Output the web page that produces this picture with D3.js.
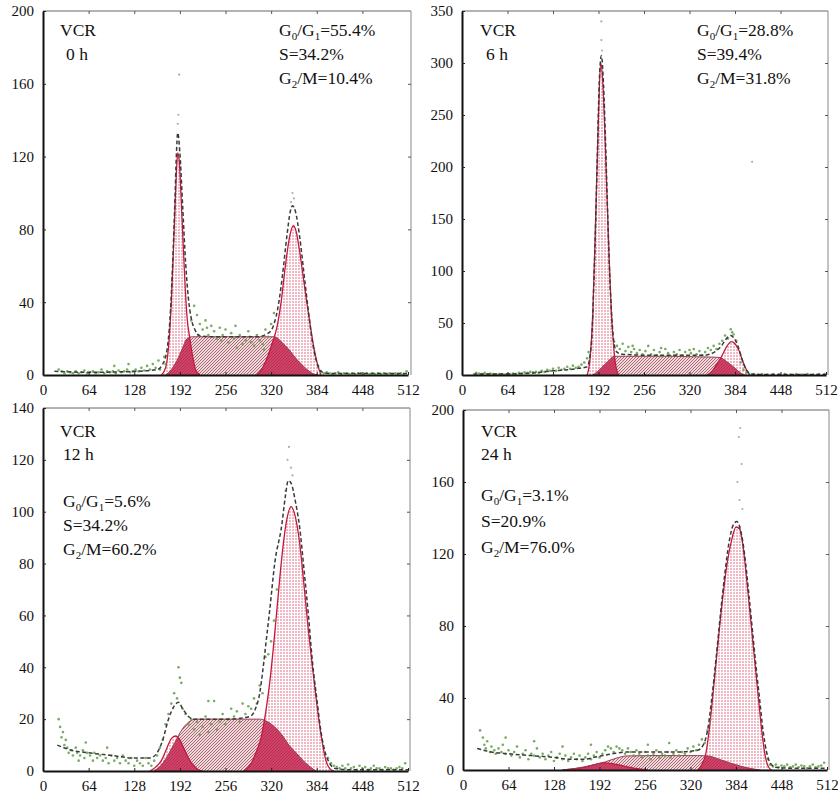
<!DOCTYPE html>
<html><head><meta charset="utf-8">
<script src="https://cdn.jsdelivr.net/npm/d3@7"></script>
<style>body{margin:0;background:#fff} svg{display:block} text{font-family:"Liberation Serif","Times New Roman","DejaVu Serif",serif;fill:#111}</style>
</head><body><svg id="c" width="838" height="795"></svg>
<script>
// ---------- DATA ----------
const xTicks=[0,64,128,192,256,320,384,448,512];
const yTicks1=[0,40,80,120,160,200];
const yTicks2=[0,50,100,150,200,250,300,350];
const yTicks3=[0,20,40,60,80,100,120,140];
const yTicks4=[0,40,80,120,160,200];
const timeLabels=["0 h","6 h","12 h","24 h"];
const g1Pct=["55.4%","28.8%","5.6%","3.1%"];
const sPct=["34.2%","39.4%","34.2%","20.9%"];
const g2Pct=["10.4%","31.8%","60.2%","76.0%"];

// Panel 1 (0 h)
const p1G1=[[166,0],[172,4],[176,15],[180,40],[184,80],[187,110],[189,122],[191,118],[194,95],[198,60],[202,32],[206,20],[210,10],[214,3],[220,0]];
const p1S=[[172,0],[180,3],[188,8],[196,15],[202,20],[210,21],[260,21],[300,21],[325,21],[335,18],[345,14],[355,9],[365,5],[372,2.5],[380,0.5],[386,0]];
const p1G2=[[300,0],[308,4],[316,11],[322,18],[328,26],[334,40],[340,60],[346,76],[351,82],[355,79],[360,68],[365,54],[370,40],[375,27],[380,15],[385,6],[390,0]];
const p1Fit=[[16,2],[64,1.5],[128,2],[160,3],[168,6],[174,14],[178,30],[182,62],[185,95],[187,120],[189,133],[192,122],[196,92],[200,62],[204,42],[208,31],[213,25],[220,21.5],[240,21],[300,21],[316,23],[324,28],[330,38],[336,55],[342,76],[347,90],[350,93],[354,90],[360,76],[366,56],[372,36],[378,18],[384,7],[390,2],[400,0.8],[512,0.8]];
const p1Dots=[[22,3],[26,2],[30,1],[34,2],[38,1.5],[42,1],[46,2],[50,1],[54,1.5],[58,2.5],[62,1],[66,1.5],[70,2],[74,1],[78,1.5],[82,3],[86,1],[90,2],[94,1.5],[98,2],[102,1],[106,2.5],[110,1.5],[114,2],[118,3],[122,1.5],[126,2],[130,3],[134,2],[138,4],[142,2.5],[146,5],[150,3],[154,6],[158,4],[162,8],[164,3],[100,5],[120,6],[170,10],[172,6],
[208,30],[212,38],[216,33],[220,28],[224,25],[228,30],[232,22],[236,27],[240,24],[244,20],[248,26],[252,22],[256,25],[260,18],[264,23],[268,20],[272,15],[276,22],[280,17],[284,19],[288,24],[292,18],[296,16],[300,22],[304,19],[308,17],[312,25],[316,21],[320,28],[324,34],[218,22],[230,26],[250,19],[270,27],[290,21],[310,14],
[386,5],[390,2],[394,1],[398,1.5],[402,1],[406,0.5],[410,1],[414,1.5],[418,0.5],[422,1],[426,1],[430,0.5],[434,1],[438,0.5],[442,1],[446,1],[450,0.5],[454,1],[458,0.5],[462,1],[466,0.5],[470,1],[474,0.5],[478,1],[482,0.5],[486,1],[490,0.5],[494,1],[498,0.5],[502,1],[506,0.5],[510,2]];
const p1Peak=[[191,165],[190,143],[189,138],[350,100],[352,97],[348,95]];

// Panel 2 (6 h)
const p2G1=[[176,0],[180,15],[184,60],[188,150],[192,250],[195,300],[198,282],[201,232],[204,172],[207,112],[210,62],[213,30],[216,10],[220,0]];
const p2S=[[184,0],[190,3],[196,7],[202,11],[208,15],[214,18],[230,18],[280,18],[330,17.5],[360,17],[366,16],[372,13],[380,9],[388,4],[394,1],[398,0]];
const p2G2=[[345,0],[352,4],[360,12],[366,19],[372,27],[379,32],[384,30],[390,23],[395,13],[400,5],[405,0]];
const p2Fit=[[16,1],[64,1],[100,2],[128,4],[160,6],[176,8],[182,30],[186,100],[190,200],[193,280],[196,307],[199,280],[202,222],[205,152],[208,92],[211,52],[214,30],[218,22],[225,20],[260,19],[300,19],[340,19],[355,22],[365,28],[372,35],[378,38],[382,36],[388,28],[394,15],[400,5],[406,1],[420,0.5],[512,0.5]];
const p2Dots=[[20,2],[24,1.5],[28,1],[32,2],[36,1],[40,1.5],[44,1],[48,0.5],[52,1],[56,1],[60,0.5],[64,1],[68,1],[72,1.5],[76,1],[80,2],[84,1.5],[88,2.5],[92,2],[96,3],[100,2.5],[104,3],[108,2],[112,4],[116,3],[120,5],[124,4],[128,6],[132,4],[136,7],[140,5],[144,6],[148,8],[152,6],[156,9],[160,7],[164,8],[168,10],[172,12],[176,16],[178,22],
[214,32],[218,28],[222,25],[226,30],[230,23],[234,27],[238,22],[242,25],[246,21],[250,24],[254,20],[258,23],[262,28],[266,20],[270,24],[274,19],[278,22],[282,18],[286,25],[290,21],[294,18],[298,22],[302,20],[306,24],[310,19],[314,22],[318,18],[322,21],[326,25],[330,20],[334,23],[338,19],[342,22],[346,26],[350,24],[354,28],[358,25],[362,30],[366,33],[370,38],[374,35],[378,44],[380,41],[382,39],[386,33],[240,28],[280,26],[320,24],
[392,12],[396,5],[400,2],[404,1],[410,1],[416,0.5],[422,1],[430,0.5],[438,1],[446,0.5],[454,1],[462,0.5],[470,1],[478,0.5],[486,1],[494,0.5],[502,1],[510,1]];
const p2Peak=[[196,340],[196,322],[197,312],[408,205]];

// Panel 3 (12 h)
const p3G1=[[150,0],[158,1.5],[166,4],[174,9],[180,12.5],[186,13.5],[192,12],[198,8.5],[204,5],[210,2.5],[218,0.5],[224,0]];
const p3S=[[155,0],[165,2],[175,6],[185,11],[195,16],[205,19],[215,20],[240,20],[280,20],[305,20],[315,19],[325,17],[335,14],[345,10],[355,7],[365,4],[375,1.5],[383,0]];
const p3G2=[[282,0],[292,3],[300,8],[306,13],[312,22],[318,34],[324,50],[330,68],[336,85],[342,97],[348,102],[354,98],[360,88],[366,72],[372,55],[378,40],[384,26],[390,14],[396,5],[402,1],[408,0]];
const p3Fit=[[20,10],[40,8],[64,7],[96,6],[128,5],[150,5],[160,7],[168,12],[176,20],[184,25],[190,26.5],[196,24],[204,21],[212,20],[230,20],[260,20],[290,21],[298,24],[304,30],[308,38],[313,50],[318,62],[325,80],[335,95],[340,106],[344,112],[348,111],[354,104],[360,94],[366,78],[372,61],[378,42],[384,28],[390,15],[396,7],[402,3],[410,1],[430,0.5],[512,0.5]];
const p3Dots=[[22,20],[24,17],[26,13],[28,15],[30,10],[32,12],[34,9],[36,7],[40,8],[42,6],[46,9],[48,7],[52,6],[56,8],[58,5],[62,7],[66,6],[70,4],[72,7],[76,5],[80,6],[84,4],[88,5],[92,3],[96,6],[100,4],[104,5],[108,3],[112,6],[116,4],[120,3],[124,5],[128,2],[132,4],[136,3],[140,2],[144,5],[148,3],[152,2],[156,4],[160,6],[164,9],[168,12],[172,18],[176,22],[180,26],[184,30],[188,28],[190,40],[192,36],[194,34],[196,24],[90,9],[60,11],[50,4],
[200,22],[204,18],[208,20],[212,16],[216,19],[220,14],[224,17],[228,21],[232,15],[236,18],[240,27],[244,16],[248,19],[252,22],[256,18],[260,20],[264,24],[268,21],[272,23],[276,19],[280,26],[284,22],[288,25],[292,24],[296,28],[300,26],[304,33],[308,30],[312,44],[316,45],[320,50],[324,58],[328,70],[232,27],
[400,5],[404,3],[408,2],[412,1.5],[416,1],[420,2],[424,1],[428,2.5],[432,1],[436,1.5],[440,0.5],[444,2],[448,1],[452,1.5],[456,0.5],[460,1],[464,2],[468,1],[472,1],[476,0.5],[480,1.5],[484,1],[488,1],[492,0.5],[496,1],[500,1.5],[504,1],[508,3]];
const p3Peak=[[345,125],[343,120],[348,117],[340,108],[350,114]];

// Panel 4 (24 h)
const p4G1=[[140,0],[155,0.6],[170,1.5],[185,3],[198,4],[210,3.6],[222,2.6],[235,1.5],[248,0.6],[260,0]];
const p4S=[[140,0],[160,1],[180,2.5],[200,4.5],[215,6.5],[230,7.8],[260,8],[300,8],[330,8],[345,7.8],[360,6],[375,4],[390,2.2],[405,0.8],[418,0]];
const p4G2=[[330,0],[336,3],[342,10],[348,28],[354,52],[360,76],[366,98],[372,116],[378,128],[384,135],[389,134],[394,124],[400,102],[405,82],[410,62],[414,46],[418,30],[422,16],[426,6],[430,1.5],[434,0]];
const p4Fit=[[20,12],[40,10],[64,9],[96,8],[128,7],[150,6],[170,6],[190,7.5],[210,9],[230,10],[260,10],[300,10],[330,11],[338,14],[344,22],[350,40],[356,62],[362,86],[368,108],[374,126],[380,136],[385,138],[390,134],[396,120],[402,98],[407,78],[412,58],[417,40],[422,22],[427,10],[432,4],[440,1.5],[460,1],[512,1]];
const p4Dots=[[24,22],[28,18],[30,14],[32,12],[34,16],[38,10],[40,13],[44,11],[46,9],[50,12],[54,10],[56,14],[60,9],[64,11],[68,8],[72,10],[76,13],[80,7],[84,9],[88,11],[92,6],[96,9],[100,8],[104,12],[108,7],[112,9],[116,6],[120,8],[124,10],[128,5],[132,7],[136,9],[140,6],[144,8],[148,5],[152,7],[156,9],[160,6],[164,8],[168,5],[172,7],[176,9],[180,6],[184,8],[188,10],[192,7],[196,9],[200,11],[204,13],[208,12],[212,10],[216,13],[220,12],[224,11],[228,9],[232,12],[236,10],[240,8],[244,11],[248,9],[252,7],[256,10],[260,8],[264,6],[268,9],[272,11],[276,7],[280,9],[284,8],[288,10],[292,7],[296,9],[300,11],[304,8],[308,10],[312,9],[316,12],[320,10],[324,13],[328,11],[332,14],[336,17],[340,15],[344,22],[348,28],[100,16],[60,18],[140,13],[180,14],[260,14],[290,15],
[428,6],[432,3],[436,2],[440,3],[444,1.5],[448,2.5],[452,2],[456,3],[460,1.5],[464,2],[468,3],[472,1.5],[476,2.5],[480,2],[484,1],[488,2],[492,3],[496,1.5],[500,2],[504,2.5],[508,4]];
const p4Peak=[[390,190],[388,185],[392,170],[386,160],[389,150],[393,145]];

// ---------- LAYOUT ----------
const panels=[
 {g1:p1G1,s:p1S,g2:p1G2,fit:p1Fit,dots:p1Dots,peak:p1Peak,yTicks:yTicks1,x0:43,x1:408,xr:411,yb:375,yt:11,
  head:[60,36,66,60],stats:[279,36,24],i:0},
 {g1:p2G1,s:p2S,g2:p2G2,fit:p2Fit,dots:p2Dots,peak:p2Peak,yTicks:yTicks2,x0:462,x1:826,xr:828,yb:375,yt:11,
  head:[480,36,486,60],stats:[697,36,24],i:1},
 {g1:p3G1,s:p3S,g2:p3G2,fit:p3Fit,dots:p3Dots,peak:p3Peak,yTicks:yTicks3,x0:43,x1:408,xr:410,yb:771,yt:408,
  head:[60,437,63,460],stats:[63,507,24],i:2},
 {g1:p4G1,s:p4S,g2:p4G2,fit:p4Fit,dots:p4Dots,peak:p4Peak,yTicks:yTicks4,x0:463,x1:827,xr:829,yb:770,yt:410,
  head:[481,437,481,460],stats:[481,501,26],i:3}
];
const FONT="Liberation Serif, Times New Roman, DejaVu Serif, serif";

const svg=d3.select("#c");
const defs=svg.append("defs");
const gp=defs.append("pattern").attr("id","grid").attr("width",3).attr("height",3).attr("patternUnits","userSpaceOnUse");
gp.append("rect").attr("width",3).attr("height",3).attr("fill","#eeaabb");
gp.append("path").attr("d","M0,0.5H3M0.5,0V3").attr("stroke","#fff").attr("stroke-width",1);
const hp=defs.append("pattern").attr("id","hatch").attr("width",3).attr("height",3).attr("patternUnits","userSpaceOnUse");
hp.append("rect").attr("width",3).attr("height",3).attr("fill","#eedadc");
hp.append("path").attr("d","M0,3L3,0M-1,1L1,-1M2,4L4,2").attr("stroke","#a55a68").attr("stroke-width",0.9);
const dp=defs.append("pattern").attr("id","dark").attr("width",3).attr("height",3).attr("patternUnits","userSpaceOnUse");
dp.append("rect").attr("width",3).attr("height",3).attr("fill","#cf4369");
dp.append("path").attr("d","M0,3L3,0M-1,1L1,-1M2,4L4,2").attr("stroke","#b52a50").attr("stroke-width",0.8);

function gLabel(sel,x,y,parts){
  const t=sel.append("text").attr("x",x).attr("y",y).attr("font-size",17.5).attr("font-family",FONT);
  let shift=0;
  parts.forEach(p=>{
    if(p.sub!==undefined){t.append("tspan").attr("font-size",11).attr("dy",4-shift).text(p.sub);shift=4;}
    else {t.append("tspan").attr("dy",-shift).text(p.t);shift=0;}
  });
}

panels.forEach(P=>{
  const yMax=P.yTicks[P.yTicks.length-1];
  const x=d3.scaleLinear().domain([0,512]).range([P.x0,P.x1]);
  const y=d3.scaleLinear().domain([0,yMax]).range([P.yb,P.yt]);
  const g=svg.append("g");
  const area=d3.area().x(d=>x(d[0])).y0(y(0)).y1(d=>y(d[1])).curve(d3.curveMonotoneX);
  const line=d3.line().x(d=>x(d[0])).y(d=>y(d[1])).curve(d3.curveMonotoneX);
  const cid="clip"+P.i;
  const cp=defs.append("clipPath").attr("id",cid);
  cp.append("path").attr("d",area(P.g1));
  cp.append("path").attr("d",area(P.g2));

  g.append("path").attr("d",area(P.s)).attr("fill","url(#hatch)");
  [P.g1,P.g2].forEach(c=>g.append("path").attr("d",area(c)).attr("fill","url(#grid)").attr("opacity",0.85));
  g.append("path").attr("d",area(P.s)).attr("fill","url(#dark)").attr("clip-path",`url(#${cid})`);
  [P.g1,P.g2].forEach(c=>g.append("path").attr("d",line(c)).attr("fill","none").attr("stroke","#c4193f").attr("stroke-width",1.3));
  g.append("path").attr("d",line(P.s)).attr("fill","none").attr("stroke","#9a3b50").attr("stroke-width",1);
  g.selectAll(".d").data(P.dots).enter().append("circle").attr("cx",d=>x(d[0])).attr("cy",d=>y(d[1])).attr("r",1.3).attr("fill","#5f9e45").attr("opacity",0.85);
  g.selectAll(".pk").data(P.peak).enter().append("circle").attr("cx",d=>x(d[0])).attr("cy",d=>y(d[1])).attr("r",1.1).attr("fill","#aab0a8");
  g.append("path").attr("d",line(P.fit)).attr("fill","none").attr("stroke","#3a3a3a").attr("stroke-width",1.5).attr("stroke-dasharray","4,2.5");

  g.append("line").attr("x1",P.x0).attr("x2",P.xr).attr("y1",P.yt).attr("y2",P.yt).attr("stroke","#666").attr("stroke-width",1);
  g.append("line").attr("x1",P.xr).attr("x2",P.xr).attr("y1",P.yt).attr("y2",P.yb).attr("stroke","#888").attr("stroke-width",1);
  const ax=g.append("g").attr("transform",`translate(0,${P.yb})`).call(d3.axisBottom(x).tickValues(xTicks).tickSize(-3).tickSizeOuter(0).tickPadding(9));
  const at=g.append("g").attr("transform",`translate(0,${P.yt})`).call(d3.axisTop(x).tickValues(xTicks.slice(1,-1)).tickSize(-3).tickFormat(""));
  const ay=g.append("g").attr("transform",`translate(${P.x0},0)`).call(d3.axisLeft(y).tickValues(P.yTicks).tickSize(-3).tickSizeOuter(0).tickPadding(9));
  const ar=g.append("g").attr("transform",`translate(${P.xr},0)`).call(d3.axisRight(y).tickValues(P.yTicks.slice(1,-1)).tickSize(-3).tickFormat(""));
  [at,ar].forEach(a=>{a.select(".domain").remove();a.selectAll("line").attr("stroke","#555");});
  [ax,ay].forEach(a=>{a.attr("font-family",FONT);a.select(".domain").attr("stroke","#111").attr("stroke-width",2);a.selectAll("line").attr("stroke","#222");
    a.selectAll("text").attr("font-family",FONT).attr("font-size",15).attr("fill","#111");});

  g.append("text").attr("x",P.head[0]).attr("y",P.head[1]).attr("font-size",17.5).attr("font-family",FONT).text("VCR");
  g.append("text").attr("x",P.head[2]).attr("y",P.head[3]).attr("font-size",17.5).attr("font-family",FONT).text(timeLabels[P.i]);
  const [sx,sy,dy]=P.stats;
  gLabel(g,sx,sy,[{t:"G"},{sub:"0"},{t:"/G"},{sub:"1"},{t:"="+g1Pct[P.i]}]);
  gLabel(g,sx,sy+dy,[{t:"S="+sPct[P.i]}]);
  gLabel(g,sx,sy+2*dy,[{t:"G"},{sub:"2"},{t:"/M="+g2Pct[P.i]}]);
});
</script></body></html>
